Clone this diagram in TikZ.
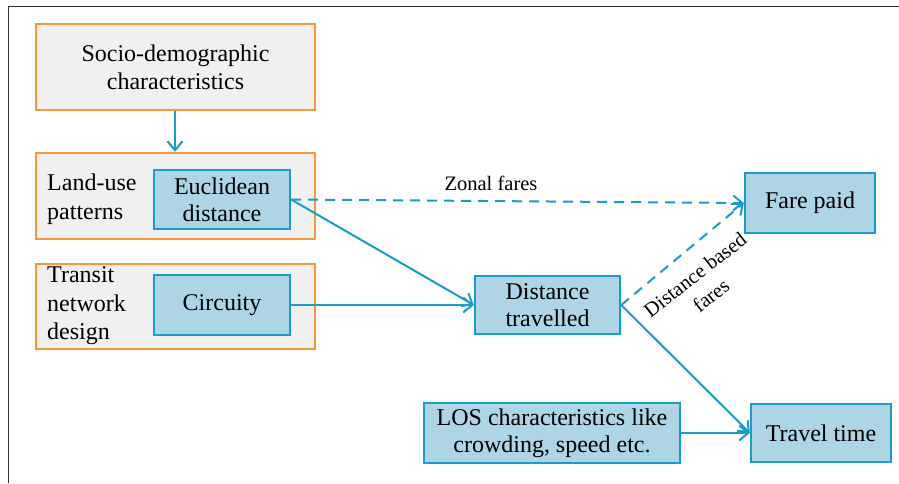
\documentclass[tikz,border=0pt]{standalone}
\usepackage{fontspec}
\setmainfont{Liberation Serif}
\usetikzlibrary{arrows.meta}
\definecolor{lblue}{HTML}{1A9DC8}
\definecolor{bfill}{HTML}{ADD5E5}
\definecolor{orng}{HTML}{F7963F}
\definecolor{gfill}{HTML}{F0F0F0}
\definecolor{frame}{HTML}{333333}
\tikzset{
  outerbox/.style={draw=orng, fill=gfill, line width=2.4pt, inner sep=0pt},
  bluebox/.style={draw=lblue, fill=bfill, line width=2.4pt, inner sep=0pt, align=center,
    font=\fontsize{24}{27}\selectfont},
  plainlbl/.style={inner sep=0pt, align=left, font=\fontsize{24}{28.5}\selectfont},
  edgelbl/.style={inner sep=0pt, align=center, font=\fontsize{20.5}{26}\selectfont},
  arr/.style={draw=lblue, line width=2pt, -{Straight Barb[length=9pt,width=15pt,line width=2pt]}},
  dsh/.style={arr, dash pattern=on 10pt off 7pt}
}
\begin{document}
\begin{tikzpicture}[x=1pt,y=-1pt]
\useasboundingbox (0,0) rectangle (899,483);
\fill[white] (0,0) rectangle (899,483);
\draw[frame, line width=1.5pt] (8.5,483) -- (8.5,6.5) -- (899,6.5);

% orange group boxes
\node[outerbox, minimum width=279pt, minimum height=86pt, align=center,
  font=\fontsize{24}{28}\selectfont] (socio) at (175.5,67) {Socio-demographic\\characteristics};
\node[outerbox, minimum width=279pt, minimum height=86pt] (land) at (175.5,196) {};
\node[outerbox, minimum width=279pt, minimum height=85pt] (transit) at (175.5,306.5) {};

\node[plainlbl, anchor=west] (landlbl) at (47,199) {Land-use\\patterns};
\node[plainlbl, anchor=west] (translbl) at (47,306) {Transit\\network\\design};

% blue boxes
\node[bluebox, minimum width=136pt, minimum height=59pt] (eucl) at (222,199.5) {Euclidean\\distance};
\node[bluebox, minimum width=136pt, minimum height=60pt] (circ) at (222,305) {Circuity};
\node[bluebox, minimum width=145pt, minimum height=58pt] (dist) at (547.5,305) {Distance\\travelled};
\node[bluebox, minimum width=130pt, minimum height=60pt] (fare) at (810,203) {Fare paid};
\node[bluebox, minimum width=256pt, minimum height=60pt] (los) at (552,433) {LOS characteristics like\\crowding, speed etc.};
\node[bluebox, minimum width=140pt, minimum height=58pt] (travel) at (821,433) {Travel time};

% connectors
\draw[arr] ([xshift=-0.5pt]socio.south) -- ([xshift=-0.5pt]land.north);
\draw[arr] (eucl.east) -- (dist.west);
\draw[arr] (circ.east) -- (dist.west);
\draw[dsh] (eucl.east) -- (fare.west);
\draw[dsh] (dist.east) -- (fare.west);
\draw[arr] (dist.east) -- (travel.west);
\draw[arr] (los.east) -- (travel.west);

% labels
\node[edgelbl] (zonal) at (491,183) {Zonal fares};
\node[edgelbl, rotate=38] (distfares) at (703,285) {Distance based\\fares};
\end{tikzpicture}
\end{document}
